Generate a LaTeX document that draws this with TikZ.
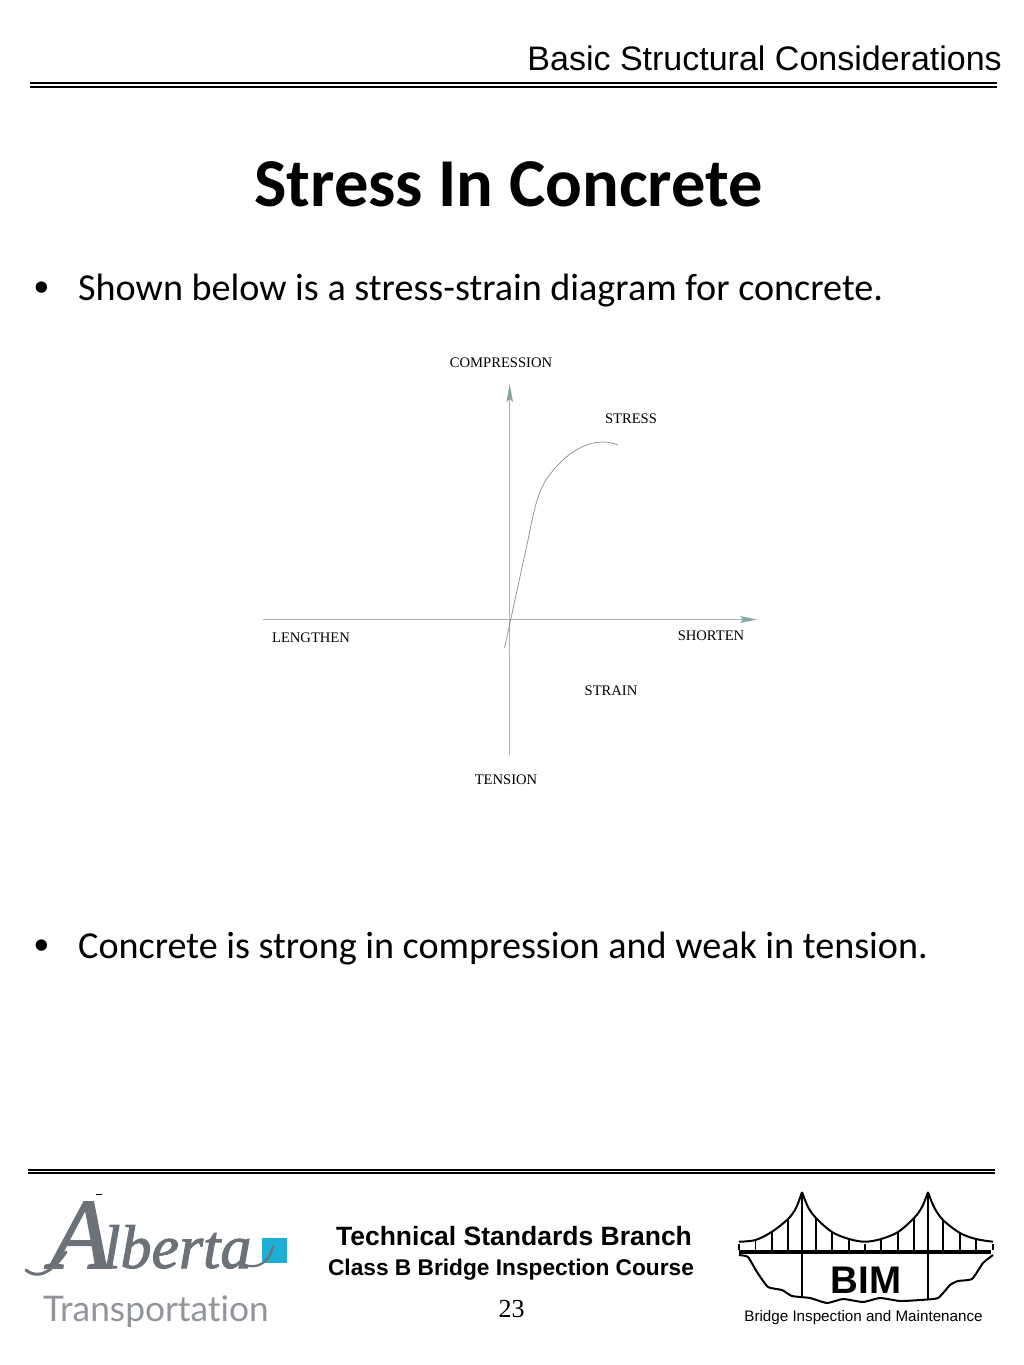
\documentclass[tikz,border=0pt]{standalone}
\usepackage{fontspec}
\setmainfont{Carlito}
\newfontfamily\arialf{Liberation Sans}
\newfontfamily\timesf{Liberation Serif}
\newfontfamily\latof[Ligatures=NoCommon]{Lato}
\newfontfamily\albf[FakeBold=1.6]{Liberation Serif}
\usetikzlibrary{arrows.meta}
\definecolor{axisgray}{HTML}{ADB2B2}
\definecolor{headteal}{HTML}{86A8A2}
\definecolor{logogray}{HTML}{6C7278}
\definecolor{logoblue}{HTML}{1EAFD8}
\newcommand{\fs}[1]{\fontsize{#1}{#1}\selectfont}
\tikzset{
  x=1pt,y=-1pt,
  rulea/.style={draw=black,line width=2pt},
  axisline/.style={draw=axisgray,line width=1.1pt},
  axishead/.style={fill=headteal,draw=none},
  curveline/.style={draw=black!45,line width=0.7pt},
  axislabel/.style={font=\timesf\fs{14.6},text=black,inner sep=0pt,anchor=center},
  bodytext/.style={font=\fs{38.15},text=black,inner sep=0pt,anchor=base west},
  bulletmark/.style={font=\arialf\fs{42},text=black,inner sep=0pt,anchor=base west},
  bridge/.style={draw=black,line width=2pt,line join=round},
  hanger/.style={draw=black,line width=1.4pt},
}
\begin{document}
\begin{tikzpicture}
\useasboundingbox (0,0) rectangle (1024,1365);
\fill[white] (0,0) rectangle (1024,1365);
% header
\node[font=\arialf\fs{34},anchor=base east,inner sep=0pt] (hdr) at (1002,70.5) {Basic Structural Considerations};
\draw[rulea] (30,83) -- (997,83);
\draw[rulea] (30,87) -- (997,87);
\node[font=\bfseries\fs{68.5},anchor=base,inner sep=0pt] (title) at (508.5,206.5) {Stress In Concrete};
% bullets
\node[bulletmark] (b1) at (34,301) {•};
\node[bodytext] (t1) at (78,300) {Shown below is a stress-strain diagram for concrete.};
\node[bulletmark] (b2) at (34,959) {•};
\node[bodytext] (t2) at (78,958) {Concrete is strong in compression and weak in tension.};
% axes
\draw[axisline] (509.7,398) -- (509.7,755);
\draw[axisline] (263,619.5) -- (745,619.5);
\fill[axishead] (509.7,384) -- (513,402) -- (509.7,399) -- (506.4,402) -- cycle;
\fill[axishead] (757,619.5) -- (740,616) -- (743,619.5) -- (740,623) -- cycle;
\draw[curveline] (504.5,648) -- (528,540) .. controls (533,515) and (537,492) .. (548,477)
  .. controls (560,460) and (580,442) .. (603,442)
  .. controls (608,442) and (613,443) .. (618,445);
\node[axislabel] (comp) at (501,362.5) {COMPRESSION};
\node[axislabel] (stress) at (631,418.5) {STRESS};
\node[axislabel] (len) at (311,637.5) {LENGTHEN};
\node[axislabel] (short) at (711,635.5) {SHORTEN};
\node[axislabel] (strain) at (611,690.5) {STRAIN};
\node[axislabel] (tens) at (506,779.5) {TENSION};
% footer
\draw[rulea] (28,1169.5) -- (995,1169.5);
\draw[rulea] (28,1173) -- (995,1173);
\draw[black,line width=0.7pt] (96,1194) -- (102,1194);
% Alberta logo
\fill[logoblue] (262,1238) rectangle (287,1263);
\node[font=\albf\itshape,text=logogray,anchor=base west,inner sep=0pt] (alb) at (50,1268)
  {{\fs{100}A}\hspace{-8pt}{\fs{62}lberta}};
\draw[logogray,line width=3pt,line cap=round] (26,1270) .. controls (38,1280) and (52,1272) .. (66,1252);
\draw[logogray,line width=2.2pt,line cap=round] (240,1262) .. controls (250,1270) and (268,1268) .. (273,1246);
\node[font=\latof\fs{35.3},text=logogray!75,anchor=base west,inner sep=0pt] (trans) at (43,1321) {Transportation};
% centre text
\node[font=\arialf\bfseries\fs{26.5},anchor=center,inner sep=0pt] (tsb) at (514,1236) {Technical Standards Branch};
\node[font=\arialf\bfseries\fs{22.7},anchor=center,inner sep=0pt] (cls) at (511,1269.5) {Class B Bridge Inspection Course};
\node[font=\timesf\fs{26},anchor=center,inner sep=0pt] (pg) at (511.5,1309) {23};
% BIM logo
\draw[black,line width=4.5pt] (739,1252) -- (991,1252);
\draw[bridge] (802,1192) -- (802,1297);
\draw[bridge] (928,1192) -- (928,1299);
\draw[bridge] plot[smooth,tension=0.55] coordinates {(739,1241.7) (755.5,1240) (772,1231.7) (788,1219) (796,1208) (802,1192)};
\draw[bridge] plot[smooth,tension=0.55] coordinates {(802,1192) (808,1207) (816,1218) (832,1232) (849,1239) (865,1241.7) (881,1239) (898,1232) (914,1218) (922,1207) (928,1192)};
\draw[bridge] plot[smooth,tension=0.55] coordinates {(928,1192) (934,1207) (943,1220) (960,1233) (976,1239) (993,1241.7)};
\foreach \x/\y in {739/1244,755.5/1241,772/1232,788/1219,816/1218,832/1232,849/1239,865/1244,881/1239,898/1232,914/1218,943/1220,960/1233,976/1239,993/1244}
  \draw[hanger] (\x,\y) -- (\x,1250);
\draw[bridge] plot[smooth,tension=0.3] coordinates {(739,1255) (748,1257) (757,1272) (768,1287) (782,1290) (792,1296) (810,1298) (827,1303) (843,1299) (863,1302) (880,1298) (900,1301) (920,1300) (938,1298) (950,1285) (958,1281) (972,1279) (983,1263) (993,1255)};
\node[font=\arialf\bfseries\fs{38.5},anchor=center,inner sep=0pt] (bim) at (866,1280) {BIM};
\node[font=\arialf\fs{15.2},anchor=center,inner sep=0pt] (bimt) at (863.5,1317.5) {Bridge Inspection and Maintenance};
\end{tikzpicture}
\end{document}
